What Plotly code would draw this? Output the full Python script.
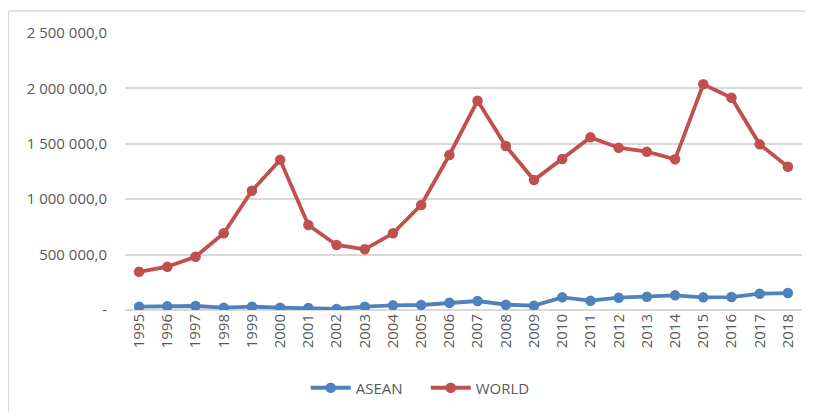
import plotly.graph_objects as go

years = [str(y) for y in range(1995, 2019)]
asean = [30000, 33000, 36000, 21000, 30000, 21000, 18000, 9000, 30000, 42000, 45000, 66000,
         81000, 48000, 39000, 114000, 84000, 111000, 120000, 132000, 114000, 117000, 147000, 153000]
world = [345000, 391000, 481000, 692000, 1076000, 1355000, 767000, 587000, 548000, 692000,
         948000, 1399000, 1889000, 1480000, 1173000, 1363000, 1558000, 1465000, 1429000,
         1360000, 2037000, 1916000, 1495000, 1293000]
ytick_vals = [0, 500000, 1000000, 1500000, 2000000, 2500000]
ytick_text = ["-", "500 000,0", "1 000 000,0", "1 500 000,0", "2 000 000,0", "2 500 000,0"]

fig = go.Figure()
fig.add_trace(go.Scatter(x=years, y=asean, name="ASEAN", mode="lines+markers",
                         line=dict(color="#4F81BD", width=3.8),
                         marker=dict(color="#4F81BD", size=10.5)))
fig.add_trace(go.Scatter(x=years, y=world, name="WORLD", mode="lines+markers",
                         line=dict(color="#C0504D", width=3.8),
                         marker=dict(color="#C0504D", size=10.5)))

fig.update_layout(
    width=805, height=404,
    margin=dict(l=117, r=11, t=25, b=102, autoexpand=False),
    paper_bgcolor="white", plot_bgcolor="white",
    font=dict(family="Open Sans, Liberation Sans, sans-serif", size=15, color="#595959"),
    showlegend=True,
    legend=dict(orientation="h", x=0.267, xanchor="left", yref="container", y=0.0594,
                yanchor="middle", font=dict(size=15, color="#595959"), itemwidth=40,
                entrywidth=65, entrywidthmode="pixels"),
    xaxis=dict(type="category", range=[-0.5, 23.5], tickangle=-90, showgrid=False,
               showline=False, ticks="", tickfont=dict(size=15, color="#595959")),
    yaxis=dict(range=[0, 2500000], tickvals=ytick_vals, ticktext=ytick_text,
               showgrid=True, gridcolor="#D9D9D9", gridwidth=1.5, zeroline=True,
               zerolinecolor="#D9D9D9", zerolinewidth=1.5, ticks="", ticklabelstandoff=17,
               tickfont=dict(size=15, color="#595959")),
)

# chart area border (top and left edges visible)
fig.add_shape(type="line", xref="paper", yref="paper", x0=-0.1721, x1=1.02, y0=1.0794, y1=1.0794,
              line=dict(color="#D9D9D9", width=1.3))
fig.add_shape(type="line", xref="paper", yref="paper", x0=-0.1721, x1=-0.1721, y0=1.0794, y1=-0.38,
              line=dict(color="#D9D9D9", width=1.3))

fig.write_html("out.html")
